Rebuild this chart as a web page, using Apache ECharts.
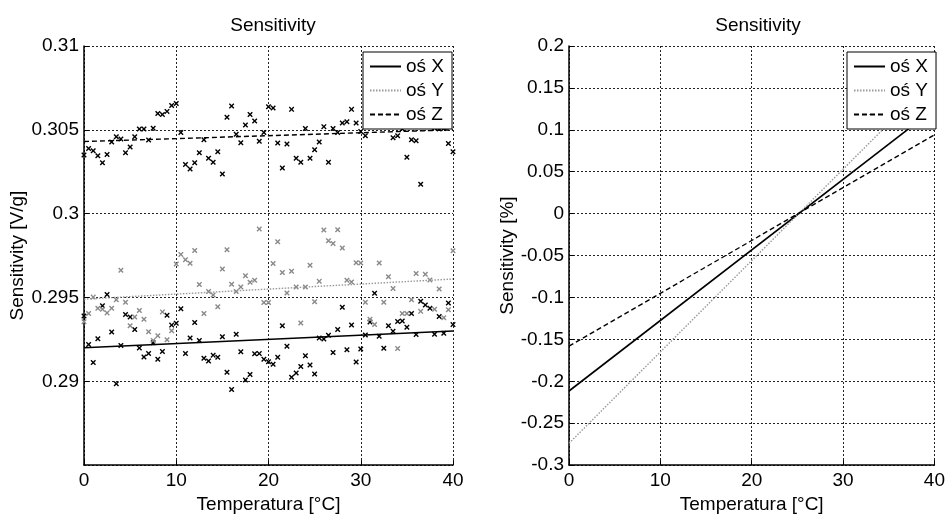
<!DOCTYPE html>
<html>
<head>
<meta charset="utf-8">
<script src="https://cdn.jsdelivr.net/npm/echarts@6/dist/echarts.min.js"></script>
<style>
html,body{margin:0;padding:0;background:#fff;}
#c{width:948px;height:519px;}
</style>
</head>
<body>
<div id="c"></div>
<script>
// ---- data ----
const temps = [0,0.5,1,1.5,2,2.5,3,3.5,4,4.5,5,5.5,6,6.5,7,7.5,8,8.5,9,9.5,10,10.5,11,11.5,12,12.5,13,13.5,14,14.5,15,15.5,16,16.5,17,17.5,18,18.5,19,19.5,20,20.5,21,21.5,22,22.5,23,23.5,24,24.5,25,25.5,26,26.5,27,27.5,28,28.5,29,29.5,30,30.5,31,31.5,32,32.5,33,33.5,34,34.5,35,35.5,36,36.5,37,37.5,38,38.5,39,39.5,40];

const sensX = [0.29390,0.29220,0.29112,0.29254,0.29450,0.29518,0.29294,0.28985,0.29214,0.29398,
0.29384,0.29309,0.29199,0.29145,0.29166,0.29230,0.29131,0.29178,0.29394,0.29335,
0.29346,0.29432,0.29166,0.29258,0.29351,0.29243,0.29137,0.29121,0.29156,0.29144,
0.29266,0.29054,0.28951,0.29281,0.29176,0.29007,0.29040,0.29164,0.29165,0.29131,
0.29117,0.29102,0.29144,0.29331,0.29209,0.29024,0.29050,0.29088,0.29152,0.29097,
0.29044,0.29258,0.29252,0.29275,0.29171,0.29309,0.29442,0.29188,0.29336,0.29115,
0.29193,0.29276,0.29353,0.29525,0.29269,0.29197,0.29331,0.29299,0.29356,0.29360,
0.29322,0.29404,0.29279,0.29477,0.29455,0.29435,0.29280,0.29386,0.29287,0.29467,
0.29338];

const sensY = [0.29355,0.29404,0.29502,0.29436,0.29429,0.29408,0.29436,0.29487,0.29662,0.29471,
0.29331,0.29383,0.29422,0.29370,0.29296,0.29244,0.29271,0.29414,0.29248,0.29302,
0.29699,0.29757,0.29725,0.29704,0.29780,0.29577,0.29404,0.29535,0.29515,0.29444,
0.29670,0.29785,0.29579,0.29536,0.29563,0.29629,0.29591,0.29602,0.29908,0.29470,
0.29470,0.29703,0.29832,0.29649,0.29526,0.29657,0.29563,0.29347,0.29563,0.29692,
0.29474,0.29596,0.29902,0.29838,0.29822,0.29904,0.29795,0.29602,0.29592,0.29707,
0.29705,0.29471,0.29370,0.29339,0.29705,0.29471,0.29623,0.29553,0.29195,0.29405,
0.29405,0.29487,0.29643,0.29417,0.29639,0.29604,0.29429,0.29550,0.29379,0.29427,
0.29779];

const sensZ = [0.30350,0.30388,0.30375,0.30346,0.30303,0.30353,0.30428,0.30459,0.30445,0.30363,
0.30397,0.30459,0.30505,0.30505,0.30439,0.30509,0.30597,0.30591,0.30610,0.30645,
0.30657,0.30484,0.30293,0.30266,0.30303,0.30363,0.30441,0.30330,0.30307,0.30369,
0.30237,0.30575,0.30642,0.30473,0.30423,0.30529,0.30591,0.30552,0.30432,0.30484,
0.30638,0.30630,0.30422,0.30272,0.30416,0.30622,0.30330,0.30307,0.30508,0.30330,
0.30381,0.30428,0.30519,0.30307,0.30508,0.30484,0.30540,0.30548,0.30622,0.30540,
0.30490,0.30464,0.30580,0.30620,0.30570,0.30600,0.30560,0.30453,0.30464,0.30505,
0.30336,0.30441,0.30435,0.30175,0.30570,0.30590,0.30511,0.30505,0.30508,0.30418,
0.30369];

// linear fits (left) and relative sensitivity (right)
const fitTemps = [0, 40];
const fitX = [0.2920, 0.2930];
const fitY = [0.2949, 0.2961];
const fitZ = [0.3043, 0.3050];

const relX = [-0.2116, 0.125];
const relY = [-0.274, 0.162];
const relZ = [-0.158, 0.094];

const names = ['oś X', 'oś Y', 'oś Z'];

// ---- chart ----
const FONT = 'Liberation Sans, Arial, sans-serif';
const FS = 19;
const pair = (xs, ys) => xs.map((t, i) => [t, ys[i]]);
const xMark = 'path://M0,1.8L1.8,0L5,3.2L8.2,0L10,1.8L6.8,5L10,8.2L8.2,10L5,6.8L1.8,10L0,8.2L3.2,5Z';

const gridLine = {show: true, lineStyle: {color: '#222', type: [2, 2], width: 1}};
function xAxisCfg(gi) {
  return {
    type: 'value', gridIndex: gi, min: 0, max: 40, interval: 10,
    name: 'Temperatura [°C]', nameLocation: 'middle', nameGap: 27,
    nameTextStyle: {fontFamily: FONT, fontSize: FS, color: '#000'},
    axisLine: {show: true, onZero: false, lineStyle: {color: '#000', width: 1.5}},
    axisTick: {show: true, inside: true, length: 5, lineStyle: {color: '#000'}},
    axisLabel: {fontFamily: FONT, fontSize: FS, color: '#000', margin: 6},
    splitLine: gridLine
  };
}

const lineStyles = [
  {color: '#000', width: 1.6, type: 'solid'},
  {color: '#999', width: 1.4, type: [1.5, 1.5]},
  {color: '#000', width: 1.4, type: [5, 3]}
];

function lineSeries(name, xi, yi, data, st) {
  return {
    name: name, type: 'line', xAxisIndex: xi, yAxisIndex: yi,
    data: data, showSymbol: false, symbol: 'none', animation: false,
    lineStyle: st, itemStyle: {color: st.color}, z: 3
  };
}
function scatterSeries(name, data, color) {
  return {
    name: name, type: 'scatter', xAxisIndex: 0, yAxisIndex: 0,
    data: data, symbol: xMark, symbolSize: 5.5, animation: false,
    itemStyle: {color: color, opacity: 1}, z: 2
  };
}

function legendCfg(left) {
  return {
    data: names, orient: 'vertical', left: left, top: 52,
    backgroundColor: '#fff', borderColor: '#000', borderWidth: 1,
    padding: [5, 8, 5, 6], itemGap: 5, itemWidth: 31, itemHeight: 1,
    textStyle: {fontFamily: FONT, fontSize: FS, color: '#000', lineHeight: 19},
    selectedMode: false, z: 10
  };
}

const chart = echarts.init(document.getElementById('c'), null, {renderer: 'canvas'});
chart.setOption({
  animation: false,
  backgroundColor: '#fff',
  title: [
    {text: 'Sensitivity', left: 268, top: 11, textAlign: 'center',
     textStyle: {fontFamily: FONT, fontSize: FS, fontWeight: 'normal', color: '#000'}},
    {text: 'Sensitivity', left: 753, top: 11, textAlign: 'center',
     textStyle: {fontFamily: FONT, fontSize: FS, fontWeight: 'normal', color: '#000'}}
  ],
  legend: [legendCfg(363), legendCfg(847)],
  grid: [
    {left: 84, top: 46, width: 369, height: 428, containLabel: false},
    {left: 569, top: 46, width: 369, height: 428, containLabel: false}
  ],
  xAxis: [xAxisCfg(0), xAxisCfg(1)],
  yAxis: [
    {
      type: 'value', gridIndex: 0, min: 0.285, max: 0.31, interval: 0.005,
      name: 'Sensitivity [V/g]', nameLocation: 'middle', nameGap: 54,
      nameTextStyle: {fontFamily: FONT, fontSize: FS, color: '#000'},
      axisLine: {show: true, lineStyle: {color: '#000', width: 1.5}},
      axisTick: {show: true, inside: true, length: 5, lineStyle: {color: '#000'}},
      axisLabel: {fontFamily: FONT, fontSize: FS, color: '#000', margin: 5, showMinLabel: false,
                  formatter: v => String(+v.toFixed(3))},
      splitLine: gridLine
    },
    {
      type: 'value', gridIndex: 1, min: -0.3, max: 0.2, interval: 0.05,
      name: 'Sensitivity [%]', nameLocation: 'middle', nameGap: 50,
      nameTextStyle: {fontFamily: FONT, fontSize: FS, color: '#000'},
      axisLine: {show: true, onZero: false, lineStyle: {color: '#000', width: 1.5}},
      axisTick: {show: true, inside: true, length: 5, lineStyle: {color: '#000'}},
      axisLabel: {fontFamily: FONT, fontSize: FS, color: '#000', margin: 5,
                  formatter: v => String(+v.toFixed(2))},
      splitLine: gridLine
    }
  ],
  series: [
    scatterSeries('pomiar X', pair(temps, sensX), '#000'),
    scatterSeries('pomiar Y', pair(temps, sensY), '#8a8a8a'),
    scatterSeries('pomiar Z', pair(temps, sensZ), '#000'),
    lineSeries(names[0], 0, 0, pair(fitTemps, fitX), lineStyles[0]),
    lineSeries(names[1], 0, 0, pair(fitTemps, fitY), lineStyles[1]),
    lineSeries(names[2], 0, 0, pair(fitTemps, fitZ), lineStyles[2]),
    lineSeries(names[0], 1, 1, pair(fitTemps, relX), lineStyles[0]),
    lineSeries(names[1], 1, 1, pair(fitTemps, relY), lineStyles[1]),
    lineSeries(names[2], 1, 1, pair(fitTemps, relZ), lineStyles[2])
  ]
});
</script>
</body>
</html>
